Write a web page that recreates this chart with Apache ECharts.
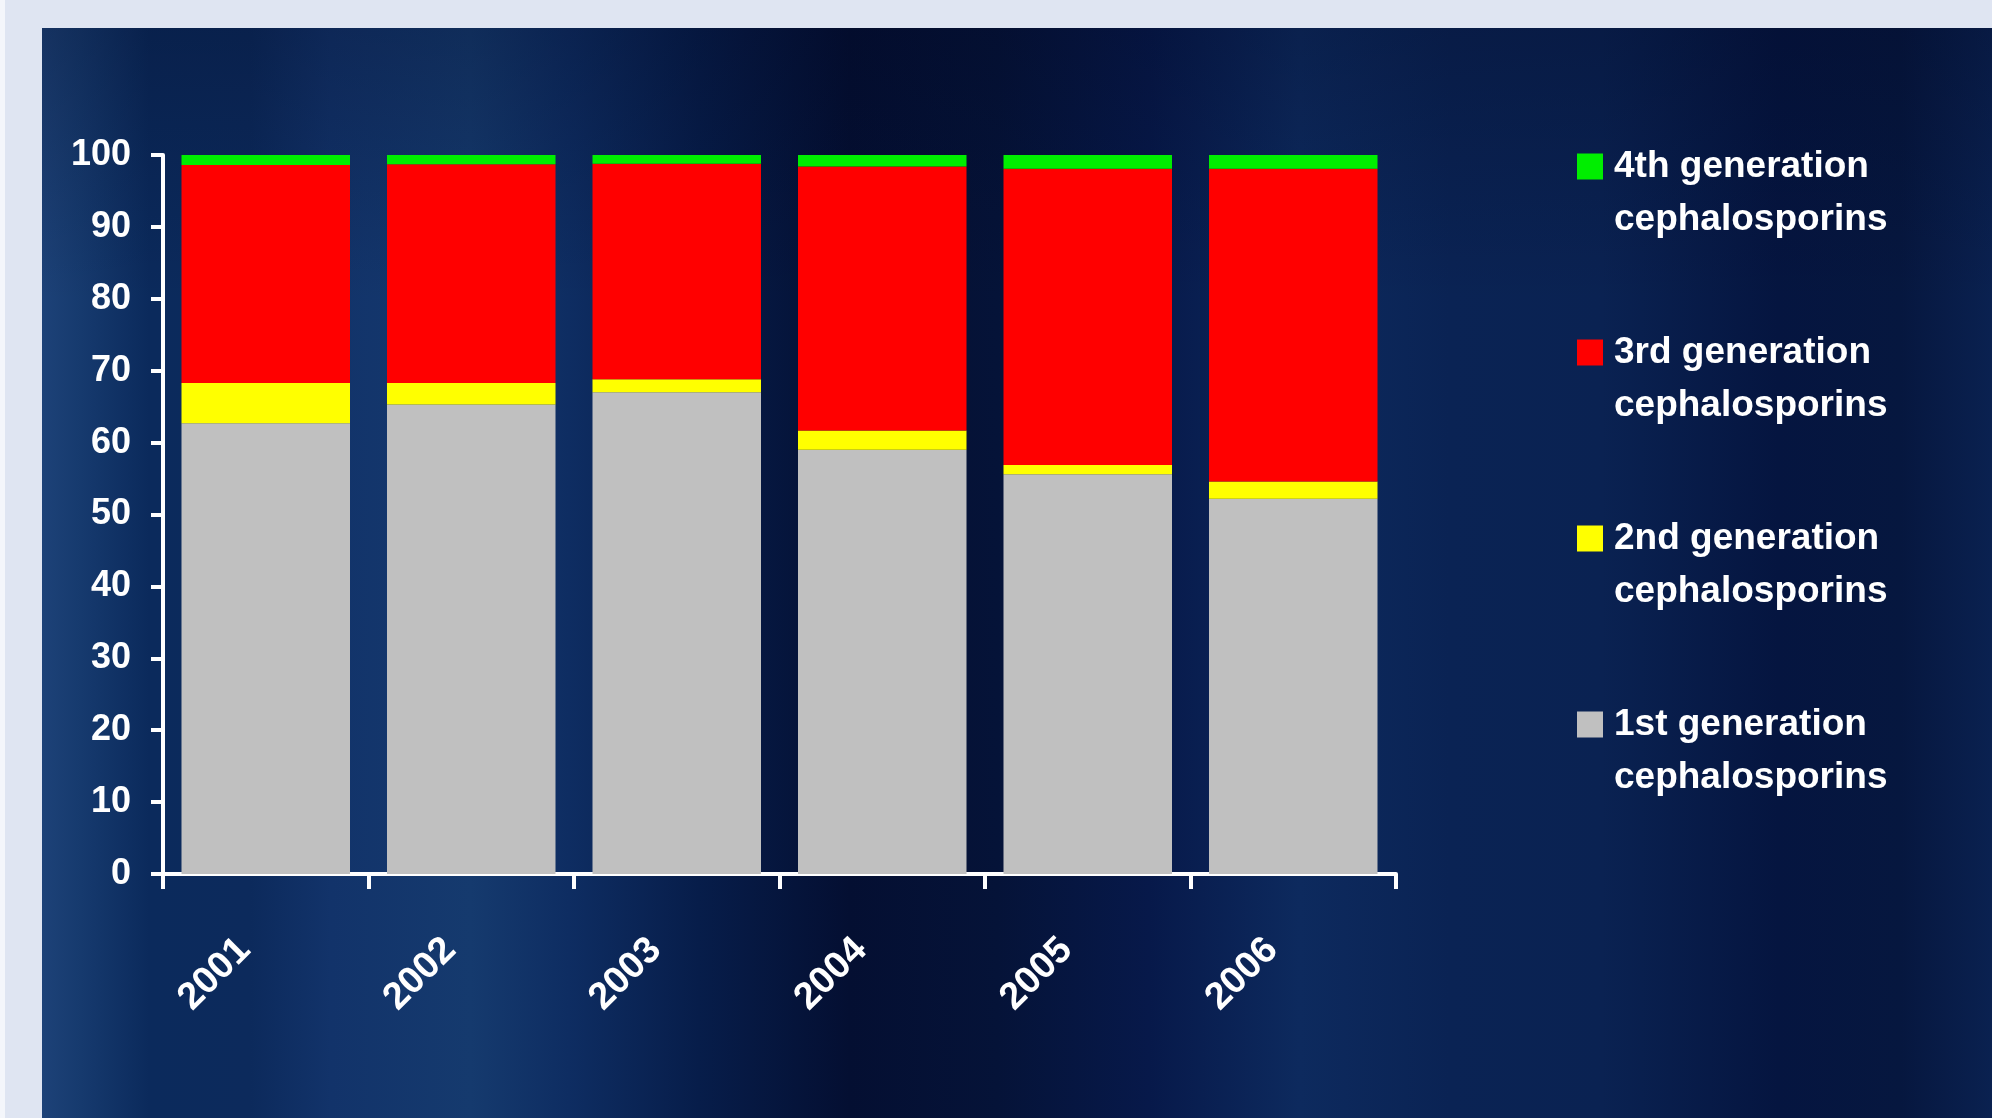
<!DOCTYPE html>
<html><head><meta charset="utf-8">
<script src="https://cdn.jsdelivr.net/npm/echarts@6/dist/echarts.min.js"></script>
<style>html,body{margin:0;padding:0;background:#dfe5f2;overflow:hidden}#c{width:1992px;height:1118px}</style>
</head><body><div id="c"></div>
<script>
const years = ['2001','2002','2003','2004','2005','2006'];
const gen1 = [62.7, 65.3, 67.0, 59.0, 55.6, 52.2];
const gen2 = [5.6, 3.0, 1.8, 2.7, 1.3, 2.4];
const gen3 = [30.3, 30.4, 30.0, 36.7, 41.2, 43.5];
const gen4 = [1.4, 1.3, 1.2, 1.6, 1.9, 1.9];
const names = ['1st generation cephalosporins','2nd generation cephalosporins','3rd generation cephalosporins','4th generation cephalosporins'];
const colors = ['#c0c0c0','#ffff00','#ff0000','#00ee00'];
const values = [gen1, gen2, gen3, gen4];

const chart = echarts.init(document.getElementById('c'));
const font = 'Liberation Sans';
chart.setOption({
  backgroundColor: '#dfe5f2',
  animation: false,
  graphic: [
    {type:'rect', z:-100, silent:true, shape:{x:0,y:0,width:5,height:1118}, style:{fill:'#f4f6fb'}},
    {type:'rect', z:-100, silent:true, shape:{x:42,y:28,width:1950,height:1090},
     style:{fill:new echarts.graphic.LinearGradient(0,0,1,0,[
       {offset:0,color:'#1d4278'},{offset:0.02,color:'#163a6e'},{offset:0.055,color:'#0b2a5c'},
       {offset:0.107,color:'#0c2a5c'},{offset:0.148,color:'#12336a'},{offset:0.22,color:'#153a6e'},
       {offset:0.27,color:'#0e2d62'},{offset:0.337,color:'#071d4a'},{offset:0.414,color:'#040f32'},
       {offset:0.49,color:'#051338'},{offset:0.568,color:'#07194a'},{offset:0.645,color:'#0d2a5e'},
       {offset:0.722,color:'#0a2354'},{offset:0.8,color:'#0a2252'},{offset:0.89,color:'#051540'},
       {offset:0.953,color:'#06173f'},{offset:1,color:'#0a2150'}])}},
    {type:'rect', z:-99, silent:true, shape:{x:42,y:28,width:1950,height:1090},
     style:{fill:new echarts.graphic.LinearGradient(0,0,0,1,[
       {offset:0,color:'rgba(0,5,30,0.25)'},{offset:0.25,color:'rgba(0,5,30,0)'},
       {offset:1,color:'rgba(0,5,30,0)'}])}}
  ],
  grid: {left:163, right:596, top:155, bottom:244, containLabel:false},
  legend: {
    orient:'vertical', left:1577, top:87, padding:0, itemGap:27,
    itemWidth:26, itemHeight:26, icon:'rect',
    data:[names[3],names[2],names[1],names[0]],
    formatter: n => '\n' + n.replace(' cephalosporins','\ncephalosporins'),
    textStyle:{color:'#ffffff', fontSize:37, fontWeight:'bold', fontFamily:font, lineHeight:53, padding:[0,0,0,6]}
  },
  xAxis: {
    type:'category', data:years,
    axisLine:{show:true, lineStyle:{color:'#ffffff', width:4}},
    axisTick:{show:true, length:15, lineStyle:{color:'#ffffff', width:4}},
    axisLabel:{interval:0, rotate:45, color:'#ffffff', fontSize:38, fontWeight:'bold', fontFamily:font, margin:49, padding:[0,30,0,0]},
    splitLine:{show:false}
  },
  yAxis: {
    type:'value', min:0, max:100, interval:10,
    axisLine:{show:true, lineStyle:{color:'#ffffff', width:4}},
    axisTick:{show:true, length:12, lineStyle:{color:'#ffffff', width:4}},
    axisLabel:{color:'#ffffff', fontSize:36, fontWeight:'bold', fontFamily:font, margin:32},
    splitLine:{show:false}
  },
  series: values.map((v,i)=>({
    name:names[i], type:'bar', stack:'total', data:v, barWidth:'82%',
    itemStyle:{color:colors[i]}
  }))
});
</script></body></html>
